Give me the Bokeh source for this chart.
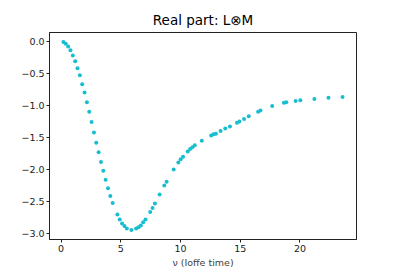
from bokeh.plotting import figure
from bokeh.models import FixedTicker, Range1d
from bokeh.embed import file_html
from bokeh.resources import INLINE

# Ioffe time values (nu) and real part of the L⊗M matrix element
nu = [0.196, 0.393, 0.589, 0.785, 0.982, 1.178, 1.374, 1.571, 1.767, 1.963,
      2.160, 2.356, 2.553, 2.749, 2.945, 3.142, 3.338, 3.534, 3.731, 3.927,
      4.123, 4.320, 4.712, 4.909, 5.105, 5.301, 5.498, 5.890, 6.283, 6.480,
      6.676, 6.872, 7.069, 7.461, 7.658, 7.854, 8.247, 8.639, 8.836, 9.425,
      9.817, 10.014, 10.210, 10.603, 10.799, 10.996, 11.192, 11.781, 12.566, 12.763,
      12.959, 13.352, 13.744, 14.137, 14.726, 14.923, 15.315, 15.708, 16.493, 16.690,
      17.671, 18.653, 18.850, 19.635, 20.028, 21.206, 22.384, 23.562]
real_part = [-0.01, -0.04, -0.08, -0.14, -0.22, -0.31, -0.42, -0.53, -0.67, -0.80,
             -0.95, -1.10, -1.26, -1.42, -1.58, -1.73, -1.88, -2.02, -2.16, -2.29,
             -2.41, -2.52, -2.70, -2.78, -2.84, -2.88, -2.92, -2.94, -2.92, -2.90,
             -2.87, -2.82, -2.78, -2.66, -2.60, -2.53, -2.39, -2.25, -2.19, -2.00,
             -1.89, -1.84, -1.80, -1.72, -1.68, -1.65, -1.62, -1.55, -1.47, -1.45,
             -1.44, -1.40, -1.36, -1.33, -1.27, -1.25, -1.21, -1.17, -1.10, -1.08,
             -1.01, -0.96, -0.95, -0.93, -0.92, -0.90, -0.88, -0.87]

x_ticks = [0, 5, 10, 15, 20]
y_ticks = [0.0, -0.5, -1.0, -1.5, -2.0, -2.5, -3.0]
y_tick_labels = ["0.0", "\u22120.5", "\u22121.0", "\u22121.5", "\u22122.0", "\u22122.5", "\u22123.0"]

FONT = "DejaVu Sans"

p = figure(width=390, height=270, output_backend="svg", toolbar_location=None,
           title="Real part: L\u2297M",
           x_range=Range1d(-0.97, 24.73), y_range=Range1d(-3.09, 0.137),
           min_border_left=49, min_border_right=34, min_border_top=32, min_border_bottom=28)

p.scatter(nu, real_part, size=4, color="#17becf", line_color=None)

p.title.align = "center"
p.title.text_font = FONT
p.title.text_font_size = "13.5px"
p.title.text_font_style = "normal"
p.title.text_color = "black"
p.title.offset = 0

p.xgrid.visible = False
p.ygrid.visible = False
p.outline_line_color = "#222222"
p.outline_line_width = 1

for ax in (p.xaxis[0], p.yaxis[0]):
    ax.major_label_text_font = FONT
    ax.major_label_text_font_size = "9.5px"
    ax.major_label_text_color = "#222222"
    ax.major_tick_out = 3
    ax.major_tick_in = 0
    ax.minor_tick_out = 0
    ax.minor_tick_in = 0
    ax.axis_line_color = "#222222"
    ax.major_tick_line_color = "#222222"
    ax.major_label_standoff = 2

p.xaxis.ticker = FixedTicker(ticks=x_ticks)
p.yaxis.ticker = FixedTicker(ticks=y_ticks)
p.yaxis.major_label_overrides = {t: l for t, l in zip(y_ticks, y_tick_labels)}
p.xaxis.axis_label = "\u03bd (Ioffe time)"
p.xaxis.axis_label_text_font = FONT
p.xaxis.axis_label_text_font_size = "9.5px"
p.xaxis.axis_label_text_font_style = "normal"
p.xaxis.axis_label_standoff = 2

open("out.html", "w").write(file_html(p, INLINE))
